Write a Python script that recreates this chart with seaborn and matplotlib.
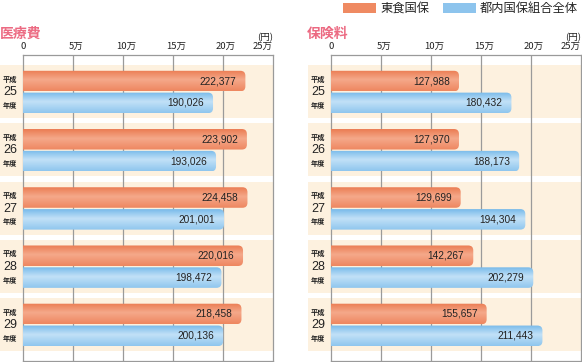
import numpy as np
import pandas as pd
import matplotlib
matplotlib.use("Agg")
import matplotlib.pyplot as plt
import seaborn as sns
from matplotlib.patches import FancyBboxPatch, Rectangle
from matplotlib.colors import to_rgb
from matplotlib.transforms import ScaledTranslation

# データ (円)
years = ["25", "26", "27", "28", "29"]
series = ["東食国保", "都内国保組合全体"]
iryo_toshoku = [222377, 223902, 224458, 220016, 218458]
iryo_tonai = [190026, 193026, 201001, 198472, 200136]
hoken_toshoku = [127988, 127970, 129699, 142267, 155657]
hoken_tonai = [180432, 188173, 194304, 202279, 211443]
tick_vals = [0, 50000, 100000, 150000, 200000, 250000]
tick_labels = ["0", "5万", "10万", "15万", "20万", "25万"]

ORANGE = "#EF8A62"
BLUE = "#8DC4ED"
BAND = "#FDF1DF"
GRID = "#9A9A9A"
PINK = "#EC6A82"

# グラデーション (上, 中, 下)
grad = {
    ORANGE: ["#EB7C53", "#F5A98A", "#EE8760"],
    BLUE: ["#78BAEA", "#C2E1F7", "#8FC6EE"],
}

sns.set_style("white")
plt.rcParams["font.family"] = ["Noto Sans CJK JP", "DejaVu Sans"]

W, H = 582, 362
fig = plt.figure(figsize=(W / 100, H / 100), dpi=100)


def px_ax(x0, x1, y0, y1):
    return fig.add_axes([x0 / W, 1 - y1 / H, (x1 - x0) / W, (y1 - y0) / H])


def make_df(a, b):
    return pd.DataFrame({
        "year": years * 2,
        "series": [series[0]] * len(years) + [series[1]] * len(years),
        "value": a + b,
    })


def gradient_bar(ax, p, color):
    x, y, w, h = p.get_x(), p.get_y(), p.get_width(), p.get_height()
    p.set_visible(False)
    clip = FancyBboxPatch((x - 8000, y), w + 8000, h,
                          boxstyle="round,pad=0,rounding_size=5000",
                          mutation_aspect=(1 / 58.3) / 1000,
                          facecolor="none", edgecolor="none", zorder=3)
    ax.add_patch(clip)
    top, mid, bot = [np.array(to_rgb(c)) for c in grad[color]]
    t = np.linspace(0, 1, 64)[:, None]
    col = np.where(t < 0.45, top + (mid - top) * (t / 0.45),
                   mid + (bot - mid) * ((t - 0.45) / 0.55))
    img = np.repeat(col[:, None, :], 2, axis=1)
    im = ax.imshow(img, extent=(x, x + w, y + h, y), origin="upper",
                   aspect="auto", zorder=3, interpolation="bilinear")
    im.set_clip_path(clip)


def panel(ax, a, b, title, title_x):
    df = make_df(a, b)
    sns.barplot(data=df, x="value", y="year", hue="series", orient="h",
                palette=[ORANGE, BLUE], width=0.75, gap=0.06,
                legend=False, ax=ax, zorder=3)
    for cont, color in zip(ax.containers, [ORANGE, BLUE]):
        for p, v in zip(cont.patches, cont.datavalues):
            gradient_bar(ax, p, color)
            ax.text(v - 9000, p.get_y() + p.get_height() / 2, f"{int(v):,}",
                    ha="right", va="center", fontsize=7.3, color="#222222",
                    zorder=5, family="Liberation Sans")
    ax.set_xlim(0, 250000)
    ax.set_ylim(4.62, -0.635)
    # 背景の帯
    for i in range(len(years)):
        ax.axhspan(i - 0.46, i + 0.45, xmin=-23 / 250, xmax=1,
                   color=BAND, zorder=0, clip_on=False, lw=0)
        ax.text(-13000, i - 0.22, "平成", ha="center",
                va="center", fontsize=5.2, fontweight="bold", color="#222222")
        ax.text(-13000, i + 0.005, years[i], ha="center", va="center",
                fontsize=9, color="#222222", family="Liberation Sans")
        ax.text(-13000, i + 0.23, "年度", ha="center", va="center",
                fontsize=5.2, fontweight="bold", color="#222222")
    for xv in tick_vals[1:-1]:
        ax.axvline(xv, color=GRID, lw=0.9, zorder=1)
    for s in ax.spines.values():
        s.set_visible(True)
        s.set_color(GRID)
        s.set_linewidth(0.9)
    ax.xaxis.tick_top()
    ax.set_xticks(tick_vals)
    ax.set_xticklabels(tick_labels, fontsize=6.8, color="#222222")
    ax.tick_params(axis="x", length=0, pad=3)
    labels = ax.get_xticklabels()
    for lab in labels[1:-1]:
        lab.set_transform(lab.get_transform()
                          + ScaledTranslation(3 / 100, 0, fig.dpi_scale_trans))
    labels[-1].set_horizontalalignment("right")
    ax.set_yticks([])
    ax.set_xlabel("")
    ax.set_ylabel("")
    ax.text(1.0, 1 + 13 / 306, "(円)", transform=ax.transAxes, ha="right",
            va="bottom", fontsize=6.8, color="#222222")
    fig.text(title_x / W, 1 - 34 / H, title, ha="left", va="center",
             fontsize=10, fontweight="bold", color=PINK)


ax1 = px_ax(23, 273, 55, 361)
ax2 = px_ax(331, 581, 55, 361)
panel(ax1, iryo_toshoku, iryo_tonai, "医療費", 0)
panel(ax2, hoken_toshoku, hoken_tonai, "保険料", 307)

# 凡例
for (x0, color, label) in [(343, ORANGE, series[0]), (443, BLUE, series[1])]:
    fig.add_artist(Rectangle((x0 / W, 1 - 12.5 / H), 33 / W, 9.5 / H,
                             transform=fig.transFigure, color=color, lw=0))
    fig.text((x0 + 37) / W, 1 - 8 / H, label, ha="left", va="center",
             fontsize=8.8, color="#222222")

plt.savefig("out.png", dpi=100)
